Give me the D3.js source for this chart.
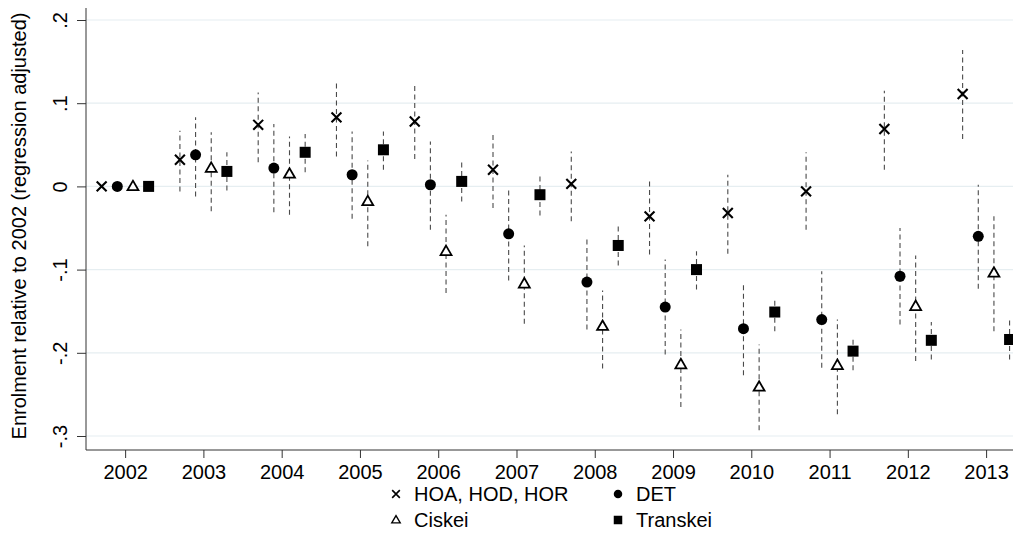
<!DOCTYPE html>
<html lang="en">
<head>
<meta charset="UTF-8">
<title>Enrolment relative to 2002</title>
<style>
    body { margin: 0; background: #fff; }
    svg { display: block; font-family: "Liberation Sans", Arial, sans-serif; }
</style>
</head>
<body>
<div id="chart"></div>
<script src="https://d3js.org/d3.v7.min.js"></script>
<script>
    const years = [2002, 2003, 2004, 2005, 2006, 2007, 2008, 2009, 2010, 2011, 2012, 2013]
    const yTicks = [-0.3, -0.2, -0.1, 0, 0.1, 0.2]
    const yTickLabels = ['-.3', '-.2', '-.1', '0', '.1', '.2']

    // HOA, HOD, HOR
    const hoa   = [0, 0.032, 0.074, 0.083, 0.078, 0.020, 0.003, -0.036, -0.032, -0.006, 0.069, 0.111]
    const hoaLo = [0, -0.006, 0.029, 0.036, 0.033, -0.026, -0.042, -0.082, -0.081, -0.052, 0.020, 0.057]
    const hoaHi = [0, 0.067, 0.113, 0.128, 0.123, 0.065, 0.042, 0.010, 0.014, 0.041, 0.115, 0.164]
    // DET
    const det   = [0, 0.038, 0.022, 0.014, 0.002, -0.057, -0.115, -0.145, -0.171, -0.160, -0.108, -0.060]
    const detLo = [0, -0.012, -0.031, -0.039, -0.052, -0.113, -0.172, -0.202, -0.227, -0.218, -0.166, -0.123]
    const detHi = [0, 0.083, 0.075, 0.066, 0.054, -0.002, -0.060, -0.088, -0.116, -0.102, -0.050, 0.002]
    // Ciskei
    const cis   = [0, 0.022, 0.015, -0.018, -0.078, -0.117, -0.168, -0.214, -0.241, -0.215, -0.144, -0.104]
    const cisLo = [0, -0.030, -0.034, -0.072, -0.128, -0.165, -0.219, -0.265, -0.293, -0.274, -0.210, -0.174]
    const cisHi = [0, 0.065, 0.060, 0.031, -0.034, -0.071, -0.125, -0.172, -0.190, -0.160, -0.083, -0.036]
    // Transkei
    const tra   = [0, 0.018, 0.041, 0.044, 0.006, -0.010, -0.071, -0.100, -0.151, -0.198, -0.185, -0.184]
    const traLo = [0, -0.005, 0.017, 0.020, -0.018, -0.035, -0.095, -0.124, -0.174, -0.221, -0.208, -0.208]
    const traHi = [0, 0.041, 0.063, 0.066, 0.029, 0.013, -0.048, -0.078, -0.136, -0.182, -0.163, -0.161]

    const seriesNames = ['HOA, HOD, HOR', 'DET', 'Ciskei', 'Transkei']
    const offsets = [-0.3, -0.1, 0.1, 0.3]

    const series = [
        { name: seriesNames[0], shape: 'x', vals: hoa, lo: hoaLo, hi: hoaHi },
        { name: seriesNames[1], shape: 'circle', vals: det, lo: detLo, hi: detHi },
        { name: seriesNames[2], shape: 'triangle', vals: cis, lo: cisLo, hi: cisHi },
        { name: seriesNames[3], shape: 'square', vals: tra, lo: traLo, hi: traHi }
    ]

    const width = 1013
    const height = 557
    const plotLeft = 86, plotTop = 8, plotBottom = 450
    const fontSize = 20

    const svg = d3.select('#chart').append('svg')
        .attr('width', width)
        .attr('height', height)

    const x = d3.scaleLinear().domain([2001.5, 2013.5]).range([plotLeft, plotLeft + 12 * 78.27])
    const y = d3.scaleLinear().domain([-0.3, 0.2]).range([436, 20])

    // grid
    svg.append('g')
        .selectAll('line')
        .data(yTicks)
        .enter()
        .append('line')
        .attr('x1', plotLeft).attr('x2', width)
        .attr('y1', d => y(d)).attr('y2', d => y(d))
        .attr('stroke', '#e6eef1')
        .attr('stroke-width', 1.2)

    // y axis
    const yAxis = svg.append('g')
        .attr('transform', `translate(${plotLeft},0)`)
        .call(d3.axisLeft(y).tickValues(yTicks).tickSize(9).tickFormat((d, i) => yTickLabels[i]))
    yAxis.select('.domain').remove()
    yAxis.selectAll('.tick line').attr('stroke', '#333')
    yAxis.selectAll('.tick text')
        .attr('x', 0).attr('dy', 0)
        .attr('transform', 'translate(-24,0) rotate(-90)')
        .attr('text-anchor', 'middle')
        .attr('dominant-baseline', 'middle')
        .attr('font-size', fontSize)
        .attr('fill', '#000')
    svg.append('line')
        .attr('x1', plotLeft).attr('x2', plotLeft)
        .attr('y1', plotTop).attr('y2', plotBottom)
        .attr('stroke', '#333')

    // x axis
    const xAxis = svg.append('g')
        .attr('transform', `translate(0,${plotBottom})`)
        .call(d3.axisBottom(x).tickValues(years).tickSize(8).tickFormat(d3.format('d')))
    xAxis.select('.domain').remove()
    xAxis.selectAll('.tick line').attr('stroke', '#333')
    xAxis.selectAll('.tick text')
        .attr('y', 15)
        .attr('font-size', fontSize)
        .attr('fill', '#000')
    svg.append('line')
        .attr('x1', plotLeft).attr('x2', width)
        .attr('y1', plotBottom).attr('y2', plotBottom)
        .attr('stroke', '#333')

    // axis title
    svg.append('text')
        .attr('transform', `translate(26,226) rotate(-90)`)
        .attr('text-anchor', 'middle')
        .attr('font-size', fontSize)
        .text('Enrolment relative to 2002 (regression adjusted)')

    // error bars
    series.forEach((s, k) => {
        svg.append('g')
            .selectAll('line')
            .data(years.map((_, i) => i).filter(i => s.lo[i] !== s.hi[i]))
            .enter()
            .append('line')
            .attr('x1', i => x(years[i] + offsets[k]))
            .attr('x2', i => x(years[i] + offsets[k]))
            .attr('y1', i => y(s.lo[i]))
            .attr('y2', i => y(s.hi[i]))
            .attr('stroke', '#4a4a4a')
            .attr('stroke-width', 1.1)
            .attr('stroke-dasharray', '5,3.5')
    })

    function drawMarker(g, shape, size) {
        if (shape === 'x') {
            const h = size * 0.45
            g.append('path')
                .attr('d', `M${-h},${-h}L${h},${h}M${-h},${h}L${h},${-h}`)
                .attr('stroke', '#000')
                .attr('stroke-width', size * 0.19)
                .attr('fill', 'none')
        } else if (shape === 'circle') {
            g.append('circle').attr('r', size * 0.5).attr('fill', '#000')
        } else if (shape === 'triangle') {
            const s = size
            const hgt = s * Math.sqrt(3) / 2
            g.append('path')
                .attr('d', `M0,${-hgt * 0.6}L${s / 2},${hgt * 0.4}L${-s / 2},${hgt * 0.4}Z`)
                .attr('fill', '#fff')
                .attr('stroke', '#000')
                .attr('stroke-width', size * 0.16)
        } else {
            g.append('rect')
                .attr('x', -size / 2).attr('y', -size / 2)
                .attr('width', size).attr('height', size)
                .attr('fill', '#000')
        }
    }

    // points
    series.forEach((s, k) => {
        years.forEach((yr, i) => {
            const g = svg.append('g')
                .attr('transform', `translate(${x(yr + offsets[k])},${y(s.vals[i])})`)
            drawMarker(g, s.shape, 11)
        })
    })

    // legend
    const legendPos = [[396, 494], [618, 494], [396, 520], [618, 520]]
    const legend = svg.append('g')
        .selectAll('g')
        .data(series)
        .enter()
        .append('g')
        .attr('transform', (_, i) => `translate(${legendPos[i][0]},${legendPos[i][1]})`)
    legend.each(function (s) {
        drawMarker(d3.select(this), s.shape, 8.5)
    })
    legend.append('text')
        .attr('x', 18)
        .attr('dy', '0.36em')
        .attr('font-size', fontSize)
        .text(d => d.name)
</script>
</body>
</html>
